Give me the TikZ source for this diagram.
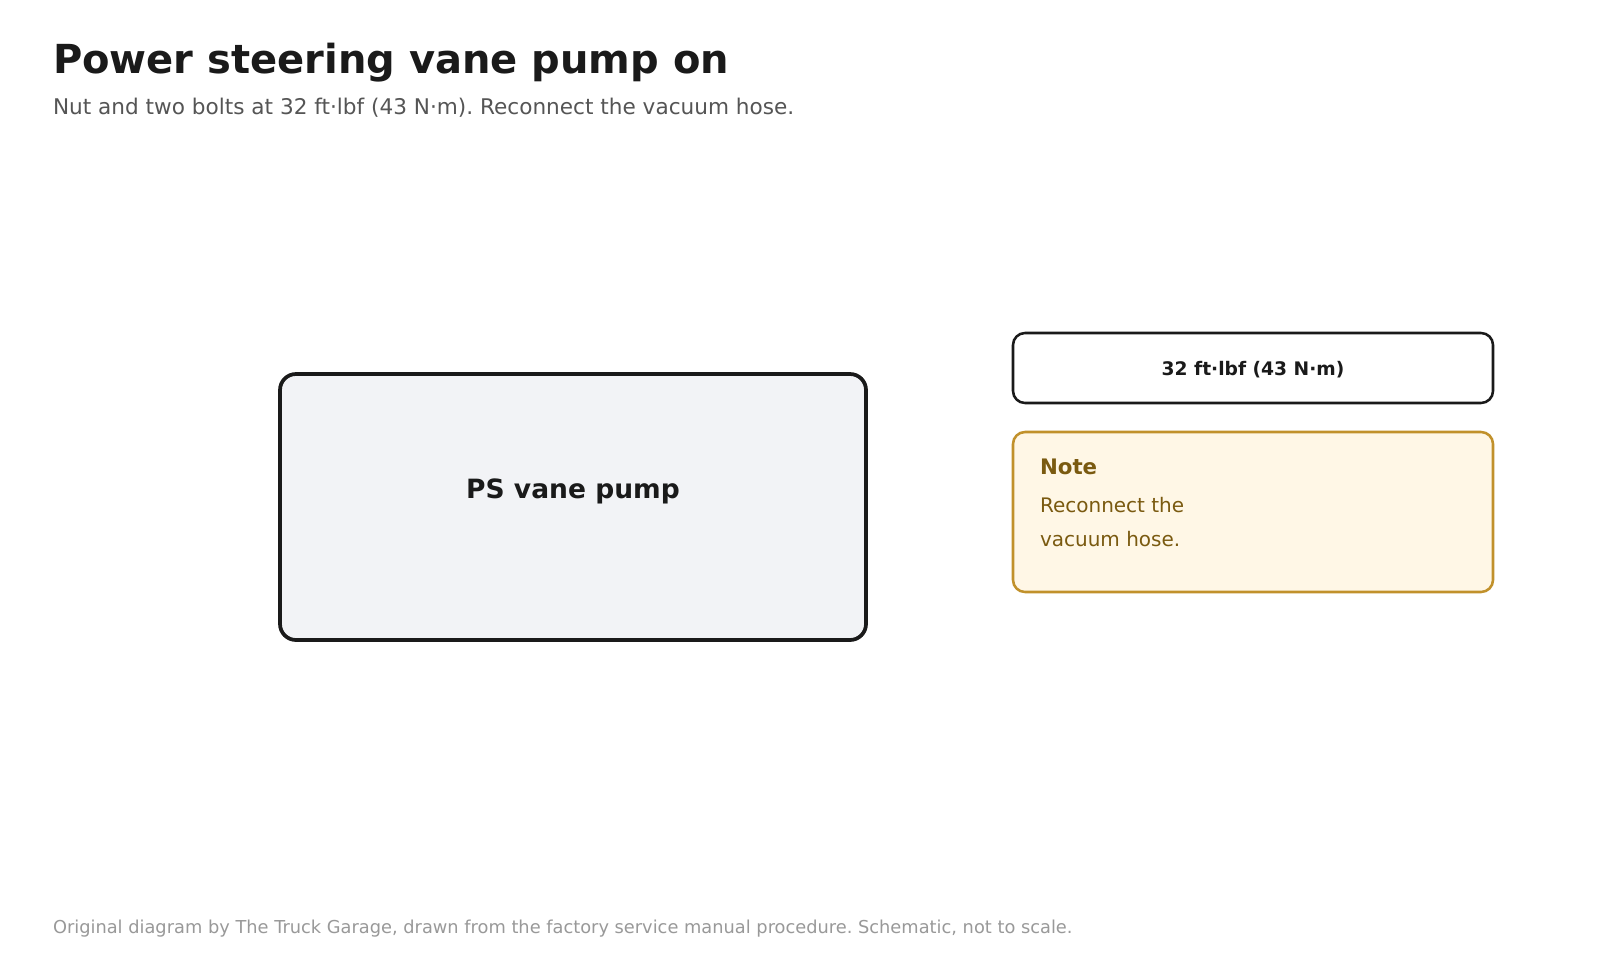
\documentclass[tikz,border=0pt]{standalone}
\usepackage{fontspec}
\setmainfont{DejaVu Sans}
\frenchspacing
\definecolor{ink}{HTML}{1A1A1A}
\definecolor{subgray}{HTML}{555555}
\definecolor{footgray}{HTML}{999999}
\definecolor{pumpfill}{HTML}{F2F3F6}
\definecolor{notefill}{HTML}{FFF7E6}
\definecolor{notestroke}{HTML}{C1912B}
\definecolor{notetext}{HTML}{7A5A10}
\tikzset{
  px/.style={x=0.75pt,y=-0.75pt},
  txt/.style={anchor=base west,inner sep=0pt,outer sep=0pt},
  pumpbox/.style={draw=ink,line width=2.8pt,fill=pumpfill,rounded corners=12pt,inner sep=0pt},
  torquebox/.style={draw=ink,line width=1.9pt,fill=white,rounded corners=9pt,inner sep=0pt},
  notebox/.style={draw=notestroke,line width=1.9pt,fill=notefill,rounded corners=9pt,inner sep=0pt},
}
\begin{document}
\begin{tikzpicture}[px]
\useasboundingbox[fill=white] (0,0) rectangle (1600,960);
% title & subtitle
\node[txt,text=ink,font=\bfseries\fontsize{30pt}{36pt}\selectfont] (title) at (53,73) {Power steering vane pump on};
\node[txt,text=subgray,font=\fontsize{16.2pt}{19pt}\selectfont] (subtitle) at (53,114) {Nut and two bolts at 32 ft·lbf (43 N·m). Reconnect the vacuum hose.};
% pump
\node[pumpbox,minimum width=439.5pt,minimum height=199.5pt] (pump) at (573,507) {};
\node[anchor=base,inner sep=0pt,text=ink,font=\bfseries\fontsize{19.9pt}{23pt}\selectfont] (pumplabel) at (573,498) {PS vane pump};
% torque
\node[torquebox,minimum width=360pt,minimum height=52.5pt] (torque) at (1253,368) {};
\node[anchor=base,inner sep=0pt,text=ink,font=\bfseries\fontsize{14pt}{17pt}\selectfont] (torquelabel) at (1253,375) {32 ft·lbf (43 N·m)};
% note
\node[notebox,minimum width=360pt,minimum height=120pt] (note) at (1253,512) {};
\node[txt,text=notetext,font=\bfseries\fontsize{16pt}{19pt}\selectfont] (notetitle) at (1040,474.5) {Note};
\node[txt,text=notetext,font=\fontsize{15pt}{18pt}\selectfont] (noteline1) at (1040,512) {Reconnect the};
\node[txt,text=notetext,font=\fontsize{15pt}{18pt}\selectfont] (noteline2) at (1040,546) {vacuum hose.};
% footer
\node[txt,text=footgray,font=\fontsize{13.35pt}{16pt}\selectfont] (footer) at (53,933) {Original diagram by The Truck Garage, drawn from the factory service manual procedure. Schematic, not to scale.};
\end{tikzpicture}
\end{document}
